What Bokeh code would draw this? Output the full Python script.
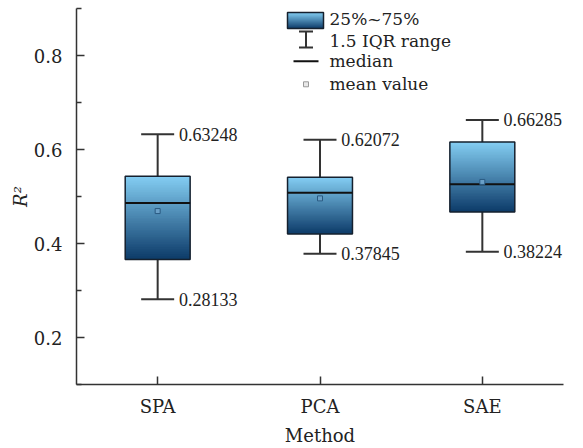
from bokeh.plotting import figure
from bokeh.models import (ColumnDataSource, FactorRange, Range1d, FixedTicker,
                          Whisker, TeeHead, BoxAnnotation, Label)
from bokeh.transform import dodge
from bokeh.embed import file_html
from bokeh.resources import INLINE

# ---- data ----
methods = ["SPA", "PCA", "SAE"]
lower_whisker = [0.28133, 0.37845, 0.38224]
upper_whisker = [0.63248, 0.62072, 0.66285]
q1 = [0.366, 0.420, 0.467]
q3 = [0.543, 0.541, 0.616]
median = [0.486, 0.508, 0.526]
mean = [0.469, 0.496, 0.531]
y_ticks = [0.2, 0.4, 0.6, 0.8]
y_minor_ticks = [0.1, 0.3, 0.5, 0.7, 0.9]
legend_labels = ["25%~75%", "1.5 IQR range", "median", "mean value"]

FONT = "DejaVu Serif"
FS = "18px"
LFS = "17px"
AXIS_COLOR = "#333333"
TEXT_COLOR = "#222222"
TOP_RGB = (132, 206, 243)
BOT_RGB = (12, 58, 104)


def mix(t):
    r = [round(BOT_RGB[i] + (TOP_RGB[i] - BOT_RGB[i]) * t) for i in range(3)]
    return "#%02x%02x%02x" % tuple(r)


src = ColumnDataSource(dict(
    method=methods, lower=lower_whisker, upper=upper_whisker,
    q1=q1, q3=q3, median=median, mean=mean,
    upper_label=["%.5f" % v for v in upper_whisker],
    lower_label=["%.5f" % v for v in lower_whisker],
))

p = figure(x_range=FactorRange(*methods), y_range=Range1d(0.1, 0.9),
           width=583, height=448, output_backend="svg", toolbar_location=None,
           min_border_left=76, min_border_right=20, min_border_top=8,
           min_border_bottom=63)
p.outline_line_color = None
p.grid.grid_line_color = None
p.background_fill_color = "white"

# gradient fill of each box (overlapping bands between q1 and q3, drawn bottom-up)
N = 48
gx, gb, gt, gc = [], [], [], []
for m, lo, hi in zip(methods, q1, q3):
    step = (hi - lo) / N
    for k in range(N):
        b = lo + step * k
        t = min(lo + step * (k + 2), hi)
        gx.append(m); gb.append(b); gt.append(t); gc.append(mix((k + 0.5) / N))
grad = ColumnDataSource(dict(x=gx, bottom=gb, top=gt, color=gc))
p.vbar(x="x", width=0.4, bottom="bottom", top="top", source=grad,
       fill_color="color", line_color=None)

# whiskers
p.add_layout(Whisker(base="method", lower="q3", upper="upper", source=src,
                     line_color=AXIS_COLOR, line_width=2,
                     upper_head=TeeHead(size=33, line_color=AXIS_COLOR, line_width=2),
                     lower_head=None))
p.add_layout(Whisker(base="method", lower="lower", upper="q1", source=src,
                     line_color=AXIS_COLOR, line_width=2,
                     lower_head=TeeHead(size=33, line_color=AXIS_COLOR, line_width=2),
                     upper_head=None))

# box outline
p.vbar(x="method", width=0.4, bottom="q1", top="q3", source=src,
       fill_color=None, line_color="#15202e", line_width=1.5)
# median
p.segment(x0=dodge("method", -0.2, range=p.x_range), x1=dodge("method", 0.2, range=p.x_range),
          y0="median", y1="median", source=src, line_color="#111111", line_width=2)
# mean
p.scatter(x="method", y="mean", source=src, marker="square", size=5,
          fill_color="#6aa0c8", line_color="#2a5a82", line_width=1)

# value labels
p.text(x=dodge("method", 0.1, range=p.x_range), y="upper", text="upper_label", source=src,
       x_offset=5, text_baseline="middle", text_align="left",
       text_font=FONT, text_font_size=FS, text_color=TEXT_COLOR)
p.text(x=dodge("method", 0.1, range=p.x_range), y="lower", text="lower_label", source=src,
       x_offset=5, text_baseline="middle", text_align="left",
       text_font=FONT, text_font_size=FS, text_color=TEXT_COLOR)

# axes
p.yaxis.ticker = FixedTicker(ticks=y_ticks, minor_ticks=y_minor_ticks)
for ax in (p.xaxis, p.yaxis):
    ax.axis_line_color = AXIS_COLOR
    ax.axis_line_width = 1.5
    ax.major_tick_line_color = AXIS_COLOR
    ax.major_tick_line_width = 1.5
    ax.minor_tick_line_color = AXIS_COLOR
    ax.minor_tick_line_width = 1.5
    ax.major_tick_in = 8
    ax.major_tick_out = 0
    ax.minor_tick_in = 5
    ax.minor_tick_out = 0
    ax.major_label_text_font = FONT
    ax.major_label_text_font_size = FS
    ax.major_label_text_color = TEXT_COLOR
    ax.axis_label_text_font = FONT
    ax.axis_label_text_font_size = FS
    ax.axis_label_text_color = TEXT_COLOR
p.xaxis.axis_label = "Method"
p.xaxis.axis_label_text_font_style = "normal"
p.xaxis.major_label_standoff = 11
p.xaxis.axis_label_standoff = 5
p.yaxis.axis_label = "R²"
p.yaxis.axis_label_text_font_style = "italic"
p.yaxis.major_label_standoff = 14
p.yaxis.axis_label_standoff = 0

# ---- manual legend (x in screen px from frame left, y in data units) ----
px = 0.8 / 377.0  # data units per pixel of the frame
top0 = 0.9
# gradient icon
NB = 16
ib_top, ib_bot = top0 - 4 * px, top0 - 20 * px
for k in range(NB):
    b = ib_bot + (ib_top - ib_bot) * k / NB
    t = min(ib_bot + (ib_top - ib_bot) * (k + 2) / NB, ib_top)
    c = mix((k + 0.5) / NB)
    p.add_layout(BoxAnnotation(left=211, right=247, left_units="screen", right_units="screen",
                               bottom=b, top=t, fill_color=c, fill_alpha=1,
                               line_alpha=0, level="overlay"))
p.add_layout(BoxAnnotation(left=211, right=247, left_units="screen", right_units="screen",
                           bottom=ib_bot, top=ib_top, fill_alpha=0,
                           line_color="#15202e", line_width=1.5, line_alpha=1, level="overlay"))
# whisker icon
p.add_layout(Whisker(base=229.5, base_units="screen", lower=top0 - 39 * px, upper=top0 - 23 * px,
                     dimension="height", line_color=AXIS_COLOR, line_width=2,
                     upper_head=TeeHead(size=14, line_color=AXIS_COLOR, line_width=2),
                     lower_head=TeeHead(size=14, line_color=AXIS_COLOR, line_width=2),
                     level="overlay"))
# median icon
p.add_layout(Whisker(base=top0 - 53 * px, lower=217, upper=242, lower_units="screen",
                     upper_units="screen", dimension="width", line_color="#111111",
                     line_width=2, lower_head=None, upper_head=None, level="overlay"))
# mean icon
p.add_layout(BoxAnnotation(left=227, right=232, left_units="screen", right_units="screen",
                           bottom=top0 - 78.5 * px, top=top0 - 73.5 * px,
                           fill_color="#e8e8e8", fill_alpha=1, line_color="#999999",
                           line_width=1, line_alpha=1, level="overlay"))
for lab, yy in zip(legend_labels, [11, 33, 53, 76]):
    p.add_layout(Label(x=253, y=top0 - yy * px, x_units="screen", text=lab,
                       text_baseline="middle", text_font=FONT, text_font_size=LFS,
                       text_color=TEXT_COLOR))

open("out.html", "w").write(file_html(p, INLINE))
